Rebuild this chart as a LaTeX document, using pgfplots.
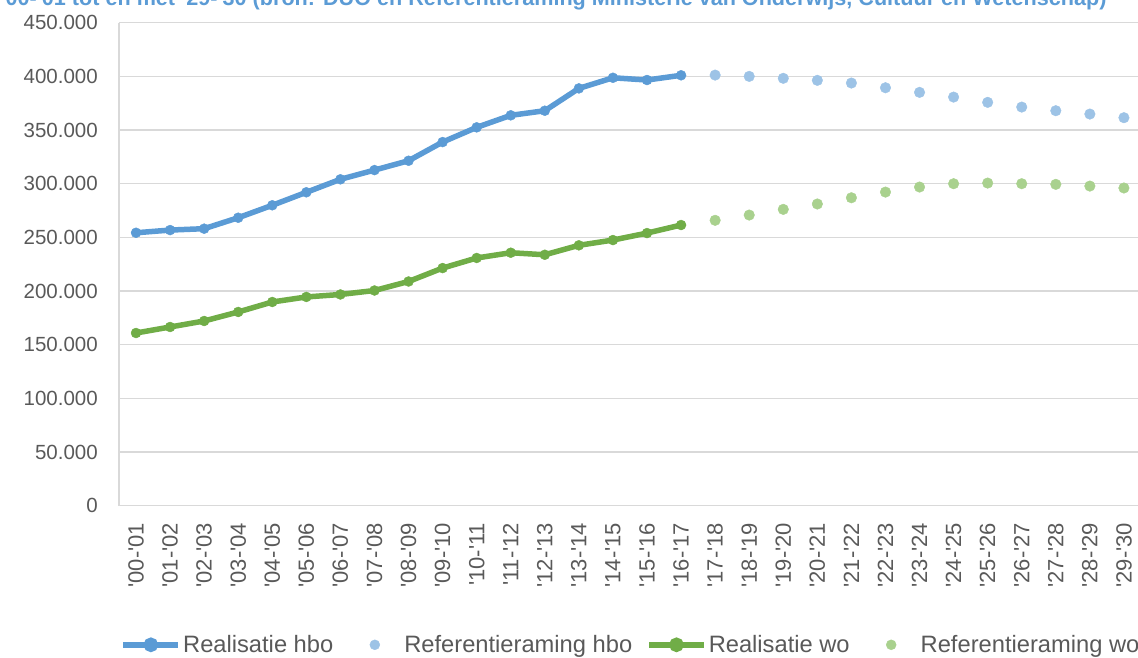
\documentclass[border=0pt]{standalone}
\usepackage{fontspec}
\setmainfont{Liberation Sans}
\usepackage{pgfplots}
\pgfplotsset{compat=1.18}
\definecolor{hbo}{HTML}{5B9BD5}
\definecolor{hboL}{HTML}{9DC3E6}
\definecolor{wo}{HTML}{70AD47}
\definecolor{woL}{HTML}{A9D18E}
\definecolor{txt}{HTML}{595959}
\definecolor{grd}{HTML}{D9D9D9}
\newcommand\q{\textquotesingle}

\begin{document}
\begin{tikzpicture}
\begin{axis}[
  at={(0pt,0pt)}, anchor=south west,
  scale only axis, width=1022pt, height=483pt,
  xmin=-0.5, xmax=29.5, ymin=0, ymax=450000,
  ytick={0,50000,...,450000},
  xtick={0,...,29},
  xticklabels={\q00-\q01,\q01-\q02,\q02-\q03,\q03-\q04,\q04-\q05,\q05-\q06,\q06-\q07,\q07-\q08,\q08-\q09,\q09-\q10,
    \q10-\q11,\q11-\q12,\q12-\q13,\q13-\q14,\q14-\q15,\q15-\q16,\q16-\q17,\q17-\q18,\q18-\q19,\q19-\q20,
    \q20-\q21,\q21-\q22,\q22-\q23,\q23-\q24,\q24-\q25,\q25-\q26,\q26-\q27,\q27-\q28,\q28-\q29,\q29-\q30},
  axis x line*=bottom, axis y line*=left,
  axis line style={grd, line width=1.5pt, -},
  ymajorgrids, grid style={grd, line width=1.5pt},
  major tick length=0pt,
  scaled y ticks=false,
  yticklabel={\pgfmathprintnumber[fixed, precision=0, 1000 sep={.}, assume math mode=true]{\tick}},
  yticklabel style={font=\fontsize{20.5}{24}\selectfont, text=txt, inner sep=0pt},
  xticklabel style={font=\fontsize{22}{26}\selectfont, text=txt, rotate=90, anchor=east, inner sep=0pt},
  yticklabel shift=21pt, xticklabel shift=17pt,
  legend style={draw=none, fill=none, at={(0.501,-0.288)}, anchor=center,
    font=\fontsize{23.7}{28}\selectfont, text=txt,
    /tikz/every even column/.append style={column sep=12pt},
    nodes={inner xsep=2pt, inner ysep=0pt}},
  legend columns=4, legend cell align=left,
]
\addplot[hbo, line width=5.5pt, mark=*, mark size=5pt, mark options={line width=0.4pt},
  legend image code/.code={\draw[hbo, line width=5.5pt] (0pt,0pt) -- (55pt,0pt);
    \fill[hbo] (27.5pt,0pt) circle (4.5pt);}]
  coordinates {(0,254300)(1,256800)(2,258100)(3,268300)(4,279900)(5,292000)(6,304100)(7,312700)(8,321400)
    (9,338800)(10,352500)(11,363700)(12,368000)(13,388800)(14,398700)(15,396600)(16,401000)};
\addlegendentry{Realisatie hbo}
\addplot[hboL, only marks, mark=*, mark size=5.3pt,
  legend image code/.code={\path[draw=none] (0pt,0pt) -- (55pt,0pt);
    \fill[hboL] (27.5pt,0pt) circle (5pt);}]
  coordinates {(17,401200)(18,400000)(19,398200)(20,396300)(21,393800)(22,389400)(23,385100)
    (24,380700)(25,375800)(26,371400)(27,368000)(28,364900)(29,361500)};
\addlegendentry{Referentieraming hbo}
\addplot[wo, line width=5.5pt, mark=*, mark size=5pt, mark options={line width=0.4pt},
  legend image code/.code={\draw[wo, line width=5.5pt] (0pt,0pt) -- (55pt,0pt);
    \fill[wo] (27.5pt,0pt) circle (4.5pt);}]
  coordinates {(0,160900)(1,166500)(2,172100)(3,180500)(4,189800)(5,194500)(6,196800)(7,200500)(8,208900)
    (9,221400)(10,230800)(11,235700)(12,233800)(13,242600)(14,247500)(15,254000)(16,261500)};
\addlegendentry{Realisatie wo}
\addplot[woL, only marks, mark=*, mark size=5.3pt,
  legend image code/.code={\path[draw=none] (0pt,0pt) -- (55pt,0pt);
    \fill[woL] (27.5pt,0pt) circle (5pt);}]
  coordinates {(17,265900)(18,270800)(19,276100)(20,281100)(21,286900)(22,292200)(23,296900)
    (24,300000)(25,300600)(26,300000)(27,299400)(28,297800)(29,296000)};
\addlegendentry{Referentieraming wo}
\end{axis}
\node[anchor=base east, font=\bfseries\fontsize{21.6}{26}\selectfont, text=hbo] at (991pt,499.7pt)
  {\q00-\q01 tot en met \q29-\q30 (bron: DUO en Referentieraming Ministerie van Onderwijs, Cultuur en Wetenschap)};
\pgfresetboundingbox
\useasboundingbox (-119pt,-151.3pt) rectangle (1019pt,505.7pt);
\end{tikzpicture}
\end{document}
